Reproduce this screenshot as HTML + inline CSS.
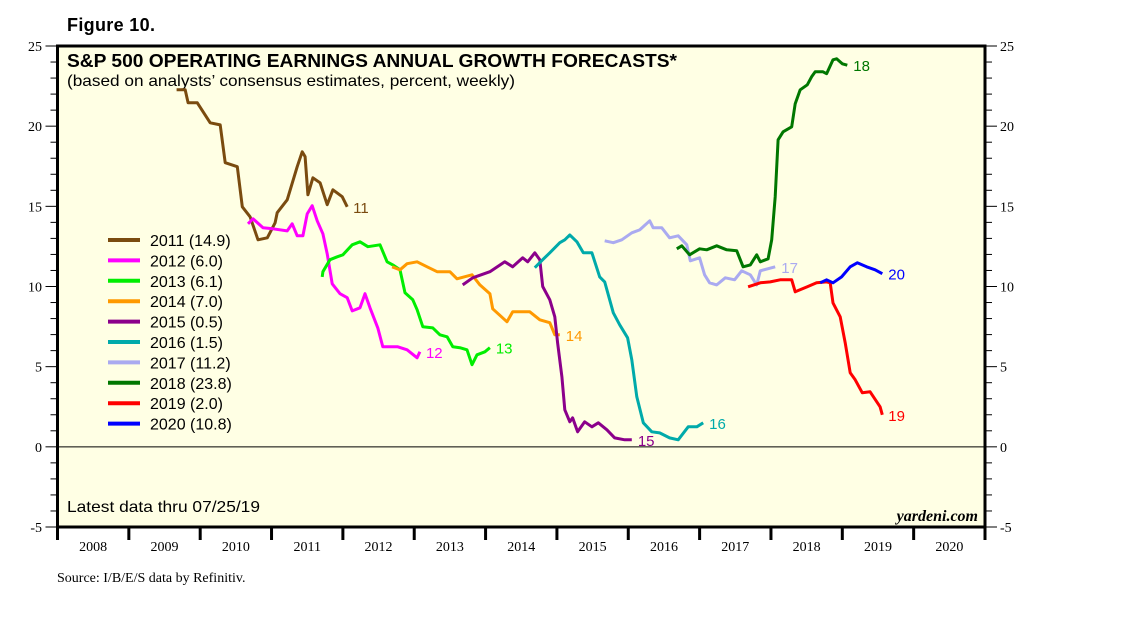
<!DOCTYPE html>
<html><head><meta charset="utf-8"><style>
body{margin:0;background:#fff;}
svg{display:block;}
</style></head><body>
<svg id="c" width="1138" height="621" xmlns="http://www.w3.org/2000/svg">
<text x="67" y="31" font-family="Liberation Sans, sans-serif" font-size="18" font-weight="bold" textLength="88">Figure 10.</text>
<rect x="57.5" y="46" width="927.5" height="481" fill="#ffffe4" stroke="#000" stroke-width="3"/>
<text x="67" y="67" font-family="Liberation Sans, sans-serif" font-size="18" font-weight="bold" textLength="610" lengthAdjust="spacingAndGlyphs">S&amp;P 500 OPERATING EARNINGS ANNUAL GROWTH FORECASTS*</text>
<text x="67" y="86" font-family="Liberation Sans, sans-serif" font-size="16" textLength="448" lengthAdjust="spacingAndGlyphs">(based on analysts’ consensus estimates, percent, weekly)</text>
<text x="67" y="512" font-family="Liberation Sans, sans-serif" font-size="16" textLength="193" lengthAdjust="spacingAndGlyphs">Latest data thru 07/25/19</text>
<text x="978" y="521" text-anchor="end" font-family="Liberation Serif, serif" font-size="16" font-style="italic" font-weight="bold">yardeni.com</text>
<text x="57" y="582" font-family="Liberation Serif, serif" font-size="14">Source: I/B/E/S data by Refinitiv.</text>
<g id="axes"></g><g id="series"></g><g id="legend"></g>
</svg>
<script>
const years=[2008,2009,2010,2011,2012,2013,2014,2015,2016,2017,2018,2019,2020];
const yTicks=[-5,0,5,10,15,20,25];
const names=["2011","2012","2013","2014","2015","2016","2017","2018","2019","2020"];
const latest=["14.9","6.0","6.1","7.0","0.5","1.5","11.2","23.8","2.0","10.8"];
const endLabels=["11","12","13","14","15","16","17","18","19","20"];
const colors=["#7a4b0f","#ff00ff","#00ee00","#ff9900","#8b008b","#00aaaa","#aaaaf0","#007700","#ff0000","#0000ff"];
const s2011=[[2009.67,22.27],[2009.79,22.27],[2009.83,21.46],[2009.96,21.46],[2010.14,20.21],[2010.28,20.08],[2010.35,17.72],[2010.52,17.47],[2010.59,14.97],[2010.70,14.35],[2010.81,12.91],[2010.94,13.04],[2011.05,13.97],[2011.08,14.6],[2011.22,15.41],[2011.36,17.47],[2011.43,18.4],[2011.47,18.1],[2011.51,15.72],[2011.58,16.78],[2011.68,16.47],[2011.78,15.1],[2011.86,16.03],[2011.99,15.6],[2012.06,14.97]];
const s2012=[[2010.67,13.91],[2010.74,14.22],[2010.88,13.66],[2011.02,13.6],[2011.22,13.47],[2011.29,13.91],[2011.36,13.16],[2011.44,13.16],[2011.50,14.53],[2011.57,15.04],[2011.64,14.1],[2011.72,13.29],[2011.78,12.04],[2011.85,10.17],[2011.96,9.55],[2012.06,9.3],[2012.13,8.48],[2012.24,8.67],[2012.31,9.55],[2012.38,8.67],[2012.49,7.42],[2012.56,6.24],[2012.77,6.24],[2012.90,6.05],[2013.04,5.55],[2013.08,5.93]];
const s2013=[[2011.71,10.6],[2011.72,10.92],[2011.82,11.67],[2011.92,11.85],[2012.00,11.98],[2012.13,12.6],[2012.24,12.79],[2012.35,12.48],[2012.52,12.6],[2012.62,11.54],[2012.70,11.35],[2012.80,11.04],[2012.87,9.61],[2012.98,9.17],[2013.04,8.55],[2013.12,7.49],[2013.26,7.42],[2013.36,6.99],[2013.46,6.86],[2013.54,6.24],[2013.64,6.18],[2013.74,6.05],[2013.81,5.12],[2013.88,5.74],[2013.99,5.93],[2014.06,6.18]];
const s2014=[[2012.69,11.23],[2012.80,11.04],[2012.90,11.42],[2013.04,11.54],[2013.18,11.23],[2013.32,10.92],[2013.50,10.92],[2013.60,10.48],[2013.81,10.73],[2013.92,10.1],[2014.06,9.55],[2014.10,8.61],[2014.30,7.8],[2014.38,8.42],[2014.62,8.42],[2014.76,7.92],[2014.90,7.74],[2014.97,6.99],[2015.04,6.99]];
const s2015=[[2013.68,10.1],[2013.82,10.54],[2014.06,10.92],[2014.27,11.54],[2014.38,11.23],[2014.52,11.79],[2014.59,11.54],[2014.69,12.1],[2014.76,11.67],[2014.80,10.0],[2014.90,9.17],[2014.97,8.11],[2015.01,6.49],[2015.07,4.37],[2015.11,2.31],[2015.18,1.56],[2015.22,1.81],[2015.29,0.94],[2015.39,1.56],[2015.49,1.25],[2015.58,1.5],[2015.70,1.06],[2015.81,0.56],[2015.95,0.44],[2016.05,0.44]];
const s2016=[[2014.69,11.17],[2014.80,11.67],[2014.90,12.1],[2015.04,12.73],[2015.11,12.91],[2015.18,13.22],[2015.28,12.79],[2015.37,12.1],[2015.49,12.1],[2015.60,10.6],[2015.67,10.29],[2015.79,8.36],[2015.88,7.61],[2015.99,6.8],[2016.05,5.43],[2016.12,3.12],[2016.21,1.5],[2016.33,0.94],[2016.44,0.87],[2016.58,0.56],[2016.70,0.44],[2016.84,1.25],[2016.96,1.25],[2017.05,1.5]];
const s2017=[[2015.67,12.85],[2015.79,12.73],[2015.91,12.91],[2016.05,13.35],[2016.16,13.53],[2016.30,14.1],[2016.35,13.66],[2016.47,13.66],[2016.58,13.04],[2016.70,13.16],[2016.82,12.6],[2016.87,11.6],[2017.00,11.79],[2017.07,10.73],[2017.14,10.23],[2017.24,10.1],[2017.36,10.54],[2017.49,10.42],[2017.59,10.98],[2017.71,10.73],[2017.80,10.1],[2017.85,10.98],[2018.06,11.23]];
const s2018=[[2016.68,12.35],[2016.75,12.54],[2016.86,11.98],[2017.00,12.35],[2017.10,12.29],[2017.24,12.54],[2017.38,12.29],[2017.52,12.23],[2017.61,11.23],[2017.71,11.35],[2017.80,11.98],[2017.85,11.54],[2017.96,11.73],[2018.01,12.91],[2018.06,15.6],[2018.10,19.15],[2018.17,19.65],[2018.29,19.96],[2018.34,21.4],[2018.41,22.27],[2018.51,22.58],[2018.57,23.08],[2018.62,23.39],[2018.73,23.39],[2018.78,23.27],[2018.87,24.14],[2018.92,24.2],[2019.00,23.89],[2019.07,23.8]];
const s2019=[[2017.68,9.98],[2017.85,10.23],[2017.99,10.29],[2018.13,10.42],[2018.29,10.42],[2018.34,9.67],[2018.51,9.98],[2018.64,10.23],[2018.78,10.29],[2018.83,10.23],[2018.87,8.98],[2018.97,8.11],[2019.04,6.49],[2019.11,4.62],[2019.18,4.18],[2019.28,3.37],[2019.39,3.43],[2019.53,2.5],[2019.56,2.0]];
const s2020=[[2018.69,10.23],[2018.78,10.42],[2018.87,10.23],[2018.99,10.6],[2019.11,11.23],[2019.21,11.48],[2019.34,11.23],[2019.46,11.04],[2019.56,10.8]];
const allSeries=[s2011,s2012,s2013,s2014,s2015,s2016,s2017,s2018,s2019,s2020];

const X0=57.5,X1=985,Y0=527,Y1=46,NS="http://www.w3.org/2000/svg";
function xs(t){return X0+(t-2008)/13*(X1-X0);}
function ys(v){return Y0-(v+5)/30*(Y0-Y1);}
function mk(tag,attrs,parent){const e=document.createElementNS(NS,tag);for(const k in attrs)e.setAttribute(k,attrs[k]);parent.appendChild(e);return e;}
const ax=document.getElementById('axes'),sg=document.getElementById('series'),lg=document.getElementById('legend');
let z=mk('line',{x1:X0,x2:X1,y1:ys(0),y2:ys(0),stroke:'#000','stroke-width':1},ax);


for(let v=-5;v<=25;v++){
  const big=yTicks.includes(v);
  let l=mk('line',{x1:X0-(big?12:7),x2:X0,y1:ys(v),y2:ys(v),stroke:'#000','stroke-width':1},ax);
  
  
  let r=mk('line',{x1:X1,x2:X1+(big?12:7),y1:ys(v),y2:ys(v),stroke:'#000','stroke-width':1},ax);
  
  
}
yTicks.forEach(v=>{
  let t=mk('text',{x:42,y:ys(v)+5,'text-anchor':'end','font-family':'Liberation Serif, serif','font-size':14},ax);
  t.textContent=v;
  
  
  let t2=mk('text',{x:1000,y:ys(v)+5,'font-family':'Liberation Serif, serif','font-size':14},ax);
  t2.textContent=v;
  
  
});
years.forEach(yr=>{
  let l=mk('line',{x1:xs(yr),x2:xs(yr),y1:Y0,y2:Y0+13,stroke:'#000','stroke-width':3},ax);
  
  
  let t=mk('text',{x:xs(yr+0.5),y:Y0+24,'text-anchor':'middle','font-family':'Liberation Serif, serif','font-size':14},ax);
  t.textContent=yr;
  
  
});
let le=mk('line',{x1:X1,x2:X1,y1:Y0,y2:Y0+13,stroke:'#000','stroke-width':3},ax);


allSeries.forEach((s,i)=>{
  const d=s.map((p,j)=>(j?'L':'M')+xs(p[0]).toFixed(1)+','+ys(p[1]).toFixed(1)).join('');
  let p=mk('path',{d:d,fill:'none',stroke:colors[i],'stroke-width':3,'stroke-linejoin':'round'},sg);
  
  
  const last=s[s.length-1];
  let t=mk('text',{x:xs(last[0])+6,y:ys(last[1])+6,fill:colors[i],'font-family':'Liberation Sans, sans-serif','font-size':15},sg);
  t.textContent=endLabels[i];
  
  
});
names.forEach((n,i)=>{
  const y=240+i*20.4;
  let l=mk('line',{x1:108,x2:140,y1:y,y2:y,stroke:colors[i],'stroke-width':4},lg);
  
  
  let t=mk('text',{x:150,y:y+6,'font-family':'Liberation Sans, sans-serif','font-size':16},lg);
  t.textContent=n+' ('+latest[i]+')';
  
  
});
</script>
</body></html>
